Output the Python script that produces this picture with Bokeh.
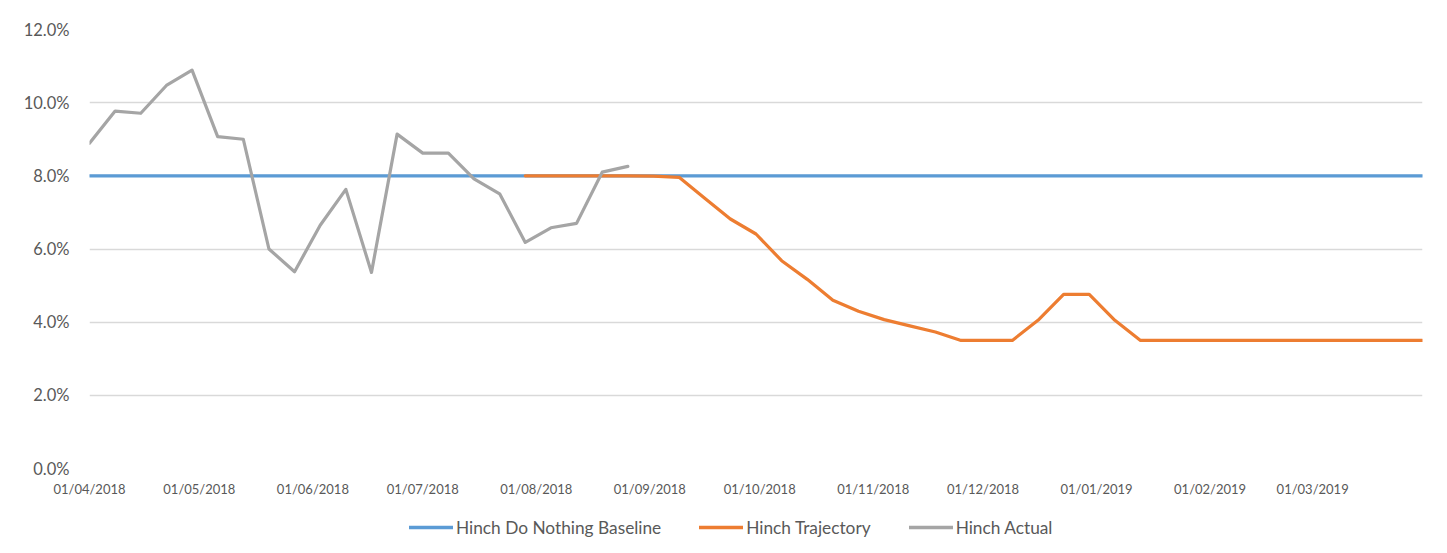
import pandas as pd
from bokeh.plotting import figure
from bokeh.layouts import column
from bokeh.models import (FixedTicker, DatetimeTickFormatter, PrintfTickFormatter,
                          Range1d, Legend, LegendItem)
from bokeh.embed import file_html
from bokeh.resources import INLINE

# ---- data (weekly points, values in %) ----
baseline_start = "2018-04-01"
baseline_values = [8.0] * 53

trajectory_start = "2018-07-29"
trajectory_values = [8.0, 8.0, 8.0, 8.0, 8.0, 7.99, 7.96, 7.39, 6.82, 6.41,
                     5.68, 5.17, 4.60, 4.30, 4.07, 3.90, 3.73, 3.50, 3.50, 3.50,
                     4.05, 4.76, 4.76, 4.05, 3.50, 3.50, 3.50, 3.50, 3.50, 3.50,
                     3.50, 3.50, 3.50, 3.50, 3.50, 3.50]

actual_start = "2018-04-01"
actual_values = [8.89, 9.77, 9.71, 10.47, 10.89, 9.07, 9.00, 6.00, 5.38, 6.65,
                 7.63, 5.36, 9.14, 8.62, 8.62, 7.92, 7.51, 6.18, 6.58, 6.70,
                 8.10, 8.26]

month_ticks = ["2018-04-01", "2018-05-01", "2018-06-01", "2018-07-01",
               "2018-08-01", "2018-09-01", "2018-10-01", "2018-11-01",
               "2018-12-01", "2019-01-01", "2019-02-01", "2019-03-01"]
y_ticks = [0, 2, 4, 6, 8, 10, 12]

series_names = ["Hinch Do Nothing Baseline", "Hinch Trajectory", "Hinch Actual"]
series_colors = ["#5b9bd5", "#ed7d31", "#a5a5a5"]


def weekly(start, n):
    return pd.date_range(start, periods=n, freq="7D")


x_start = pd.Timestamp("2018-04-01")
x_end = pd.Timestamp("2019-03-31")
font = "Lato"
text_color = "#595959"

p = figure(width=1445, height=505, x_axis_type="datetime",
           output_backend="svg", toolbar_location=None,
           x_range=Range1d(x_start, x_end), y_range=Range1d(0, 12),
           min_border_left=89, min_border_right=23,
           min_border_top=29, min_border_bottom=37)
p.outline_line_color = None
p.background_fill_color = "white"
p.border_fill_color = "white"

# grid
p.xgrid.grid_line_color = None
p.ygrid.grid_line_color = "#d9d9d9"
p.ygrid.grid_line_width = 1.3

# axes
p.yaxis.ticker = FixedTicker(ticks=y_ticks)
p.yaxis.formatter = PrintfTickFormatter(format="%.1f%%")
p.yaxis.axis_line_color = None
p.yaxis.major_tick_line_color = None
p.yaxis.minor_tick_line_color = None
p.yaxis.major_label_standoff = 14
p.yaxis.major_label_text_font = font
p.yaxis.major_label_text_font_size = "16.5px"
p.yaxis.major_label_text_color = text_color

tick_ms = [pd.Timestamp(t).value / 1e6 for t in month_ticks]
p.xaxis.ticker = FixedTicker(ticks=tick_ms)
p.xaxis.formatter = DatetimeTickFormatter(days="%d/%m/%Y", months="%d/%m/%Y",
                                          years="%d/%m/%Y")
p.xaxis.axis_line_color = None
p.xaxis.major_tick_line_color = None
p.xaxis.minor_tick_line_color = None
p.xaxis.major_label_standoff = 6
p.xaxis.major_label_text_font = font
p.xaxis.major_label_text_font_size = "13px"
p.xaxis.major_label_text_color = text_color

# lines
series = [
    (weekly(baseline_start, len(baseline_values)), baseline_values),
    (weekly(trajectory_start, len(trajectory_values)), trajectory_values),
    (weekly(actual_start, len(actual_values)), actual_values),
]
for (xs, ys), color in zip(series, series_colors):
    p.line(xs, ys, line_color=color, line_width=3.2,
           line_join="round", line_cap="round")

# ---- legend strip (separate figure below the chart) ----
lg = figure(width=1445, height=45, output_backend="svg", toolbar_location=None,
            x_range=Range1d(0, 1), y_range=Range1d(0, 1),
            x_axis_location=None, y_axis_location=None,
            min_border_left=0, min_border_right=0,
            min_border_top=0, min_border_bottom=0)
lg.outline_line_color = None
lg.xgrid.grid_line_color = None
lg.ygrid.grid_line_color = None
lg.border_fill_color = "white"

# same series drawn in the strip (they fall outside its ranges, so only the
# legend swatches show)
legend_renderers = [lg.line(xs, ys, line_color=c, line_width=3.6,
                            line_cap="round")
                    for (xs, ys), c in zip(series, series_colors)]
legend = Legend(items=[LegendItem(label=n, renderers=[r])
                       for n, r in zip(series_names, legend_renderers)],
                location=(320, 11), orientation="horizontal",
                border_line_color=None, background_fill_alpha=0,
                padding=0, margin=0, spacing=38,
                glyph_width=44, glyph_height=24, label_height=24,
                label_standoff=3,
                label_text_font=font, label_text_font_size="17.3px",
                label_text_color=text_color)
lg.add_layout(legend, "center")

layout = column(p, lg, spacing=0)
open("out.html", "w").write(file_html(layout, INLINE))
